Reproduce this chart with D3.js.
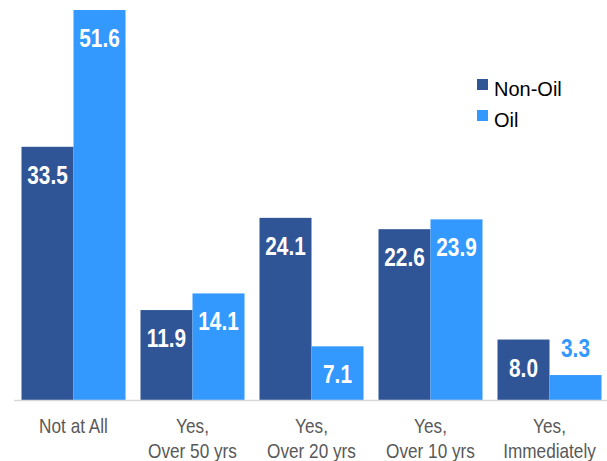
<!DOCTYPE html>
<html>
<head>
<meta charset="utf-8">
<script src="https://cdn.jsdelivr.net/npm/d3@7.9.0/dist/d3.min.js"></script>
<style>
  html, body { margin: 0; padding: 0; background: #fff; }
  svg { display: block; font-family: "Liberation Sans", Arial, sans-serif; }
</style>
</head>
<body>
<div id="chart"></div>
<script>
// Data
const categories = [["Not at All"], ["Yes,", "Over 50 yrs"], ["Yes,", "Over 20 yrs"], ["Yes,", "Over 10 yrs"], ["Yes,", "Immediately"]];
const seriesNames = ["Non-Oil", "Oil"];
const nonOil = [33.5, 11.9, 24.1, 22.6, 8.0];
const oil = [51.6, 14.1, 7.1, 23.9, 3.3];

const colors = { "Non-Oil": "#2f5597", "Oil": "#3399ff" };

const width = 607;
const height = 461;
const baseline = 400;

const svg = d3.select('#chart')
  .append('svg')
  .attr('width', width)
  .attr('height', height);

// Scales
const x = d3.scaleBand()
  .domain(d3.range(categories.length))
  .range([14, 609])
  .paddingInner(0.126)
  .paddingOuter(0.063);

const xInner = d3.scaleBand()
  .domain(seriesNames)
  .range([0, x.bandwidth()]);

const y = d3.scaleLinear()
  .domain([0, 51.6])
  .range([baseline, 10]);

// Build rows for drawing
const rows = [];
categories.forEach((c, i) => {
  rows.push({ i, series: "Non-Oil", value: nonOil[i] });
  rows.push({ i, series: "Oil", value: oil[i] });
});

// Bars
svg.append('g')
  .selectAll('rect')
  .data(rows)
  .join('rect')
  .attr('x', d => x(d.i) + xInner(d.series))
  .attr('y', d => y(d.value))
  .attr('width', xInner.bandwidth())
  .attr('height', d => baseline - y(d.value))
  .attr('fill', d => colors[d.series]);

// Axis line
svg.append('line')
  .attr('x1', 14).attr('x2', width)
  .attr('y1', baseline + 0.5).attr('y2', baseline + 0.5)
  .attr('stroke', '#d9d9d9')
  .attr('stroke-width', 1.5);

// Value labels (narrow bold)
const fmt = d3.format('.1f');
const inside = d => baseline - y(d.value) > 45;
svg.append('g')
  .selectAll('text')
  .data(rows)
  .join('text')
  .attr('transform', d => {
    const cx = x(d.i) + xInner(d.series) + xInner.bandwidth() / 2;
    const by = inside(d) ? y(d.value) + 37 : y(d.value) - 18;
    return `translate(${cx},${by}) scale(0.8,1)`;
  })
  .attr('text-anchor', 'middle')
  .attr('font-size', 26)
  .attr('font-weight', 'bold')
  .attr('fill', d => inside(d) ? '#fff' : colors[d.series])
  .text(d => fmt(d.value));

// Category labels
const catG = svg.append('g')
  .selectAll('text')
  .data(categories)
  .join('text')
  .attr('transform', (d, i) => `translate(${x(i) + x.bandwidth() / 2},433) scale(0.86,1)`)
  .attr('text-anchor', 'middle')
  .attr('font-size', 20)
  .attr('fill', '#595959');

catG.selectAll('tspan')
  .data(d => d)
  .join('tspan')
  .attr('x', 0)
  .attr('y', (d, j) => j * 25)
  .text(d => d);

// Legend
const legend = svg.append('g')
  .selectAll('g')
  .data(seriesNames)
  .join('g')
  .attr('transform', (d, i) => `translate(477,${79 + i * 31})`);

legend.append('rect')
  .attr('width', 11)
  .attr('height', 11)
  .attr('fill', d => colors[d]);

legend.append('text')
  .attr('x', 17)
  .attr('y', 17)
  .attr('font-size', 20)
  .attr('fill', '#000')
  .text(d => d);
</script>
</body>
</html>
